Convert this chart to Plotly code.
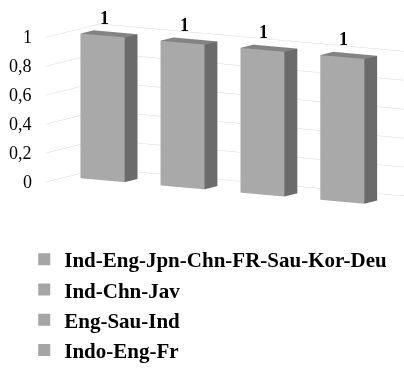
import math
import plotly.graph_objects as go

series = ["Ind-Eng-Jpn-Chn-FR-Sau-Kor-Deu", "Ind-Chn-Jav", "Eng-Sau-Ind", "Indo-Eng-Fr"]
values = [1, 1, 1, 1]
tick_vals = [0, 0.2, 0.4, 0.6, 0.8, 1]
tick_text = ["0", "0,2", "0,4", "0,6", "0,8", "1"]

FRONT = "#a9a9a9"
SIDE = "#6b6b6b"
TOP = "#838383"
SERIF = "Liberation Serif"

X_MIN, X_MAX = -0.455, 3.73
half_w = 0.275
y0, y1 = 0.38, 0.62

fig = go.Figure()

faces_i = [0, 0, 4, 4, 0, 0, 3, 3, 0, 0, 1, 1]
faces_j = [1, 2, 5, 6, 1, 5, 2, 6, 3, 7, 2, 6]
faces_k = [2, 3, 6, 7, 5, 4, 6, 7, 7, 4, 6, 5]
face_cols = [TOP, TOP, TOP, TOP, FRONT, FRONT, FRONT, FRONT, SIDE, SIDE, SIDE, SIDE]

for idx, (name, v) in enumerate(zip(series, values)):
    x0, x1 = idx - half_w, idx + half_w
    fig.add_trace(go.Mesh3d(
        x=[x0, x1, x1, x0, x0, x1, x1, x0],
        y=[y0, y0, y1, y1, y0, y0, y1, y1],
        z=[0, 0, 0, 0, v, v, v, v],
        i=faces_i, j=faces_j, k=faces_k,
        facecolor=face_cols, flatshading=True,
        lighting=dict(ambient=1, diffuse=0, specular=0, roughness=1, fresnel=0),
        hoverinfo="skip", showlegend=False, name=name,
    ))
    fig.add_trace(go.Scatter(
        x=[None], y=[None], mode="markers", name=name,
        marker=dict(symbol="square", size=11, color="#a5a5a5"),
    ))

annotations = [
    dict(x=i, y=(y0 + y1) / 2, z=v, text=f"<b>{v}</b>", showarrow=False,
         yshift=16, xshift=-5, font=dict(family=SERIF, size=18, color="black"))
    for i, v in enumerate(values)
]
annotations += [
    dict(x=X_MIN, y=0, z=tv, text=tt, showarrow=False, xanchor="right",
         xshift=-12, font=dict(family=SERIF, size=18, color="black"))
    for tv, tt in zip(tick_vals, tick_text)
]

axis_hidden = dict(showgrid=False, showticklabels=False, showline=False, zeroline=False,
                   showbackground=False, title=dict(text=""), showspikes=False, ticks="")

S = 0.825
az, el = math.radians(31), math.radians(8.6)
dist = 2.0
dirv = (math.sin(az) * math.cos(el), -math.cos(az) * math.cos(el), math.sin(el))
shift_x = (X_MAX - 3.455) / 2 * S
cen = (-0.248 * S - shift_x, -0.149 * S, 0.0)
eye = tuple(c + dist * d for c, d in zip(cen, dirv))

fig.update_layout(
    width=404, height=371,
    margin=dict(l=0, r=0, t=0, b=0),
    paper_bgcolor="white", plot_bgcolor="white",
    xaxis=dict(visible=False), yaxis=dict(visible=False),
    scene=dict(
        domain=dict(x=[0.0, 1.0], y=[0.369, 0.989]),
        xaxis=dict(axis_hidden, range=[X_MIN, X_MAX]),
        yaxis=dict(axis_hidden, range=[0, 1]),
        zaxis=dict(range=[0, 1], tickvals=tick_vals,
                   showgrid=True, gridcolor="#d9d9d9", gridwidth=1,
                   showticklabels=False,
                   showline=False, zeroline=False, showbackground=False,
                   showspikes=False, ticks="", title=dict(text="")),
        aspectmode="manual",
        aspectratio=dict(x=(X_MAX - X_MIN) * S, y=1.12 * S, z=1.57 * S),
        camera=dict(eye=dict(x=eye[0], y=eye[1], z=eye[2]),
                    center=dict(x=cen[0], y=cen[1], z=cen[2]),
                    projection=dict(type="orthographic")),
        annotations=annotations,
    ),
    showlegend=True,
    legend=dict(x=0.06, y=0.345, xanchor="left", yanchor="top",
                font=dict(family=SERIF, size=21, color="black", weight="bold"),
                itemsizing="constant", tracegroupgap=0, bgcolor="rgba(0,0,0,0)"),
)

fig.write_html("out.html")
